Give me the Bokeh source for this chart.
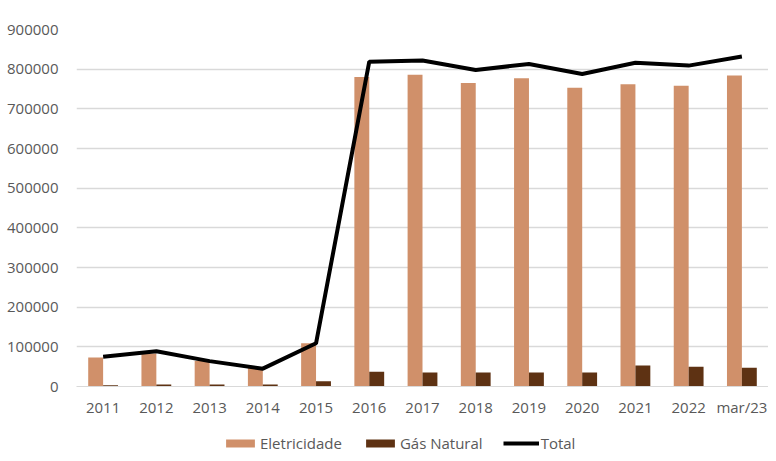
from bokeh.plotting import figure
from bokeh.layouts import column
from bokeh.models import ColumnDataSource, FactorRange, Legend, LegendItem, NumeralTickFormatter, FixedTicker, Range1d
from bokeh.transform import dodge
from bokeh.embed import file_html
from bokeh.resources import INLINE

categories = ["2011", "2012", "2013", "2014", "2015", "2016", "2017", "2018", "2019", "2020", "2021", "2022", "mar/23"]
eletricidade = [73000, 83000, 64000, 49000, 109000, 780000, 786000, 765000, 777000, 753000, 762000, 758000, 784000]
gas_natural = [3000, 5000, 5000, 5000, 13000, 37000, 35000, 35000, 35000, 35000, 53000, 50000, 47000]
total = [75000, 89000, 64000, 45000, 109000, 819000, 822000, 798000, 813000, 788000, 816000, 809000, 832000]
y_ticks = [0, 100000, 200000, 300000, 400000, 500000, 600000, 700000, 800000, 900000]
series_names = ["Eletricidade", "Gás Natural", "Total"]

FONT = "Open Sans"
TXT = "#595959"
C_ELE = "#D0906A"
C_GAS = "#5E3213"

src = ColumnDataSource(dict(cat=categories, ele=eletricidade, gas=gas_natural, tot=total))

p = figure(x_range=FactorRange(*categories), y_range=(0, 900000),
           width=768, height=420, output_backend="svg", toolbar_location=None,
           min_border_left=76, min_border_right=0, min_border_top=29, min_border_bottom=34)
p.outline_line_color = None
p.background_fill_color = "white"

p.vbar(x=dodge("cat", -0.14, range=p.x_range), top="ele", width=0.28, source=src,
       fill_color=C_ELE, line_color=None)
p.vbar(x=dodge("cat", 0.14, range=p.x_range), top="gas", width=0.28, source=src,
       fill_color=C_GAS, line_color=None)
p.line(x="cat", y="tot", source=src, line_color="black", line_width=4)

p.yaxis.ticker = FixedTicker(ticks=y_ticks)
p.yaxis.formatter = NumeralTickFormatter(format="0")
p.yaxis.axis_line_color = None
p.yaxis.major_tick_line_color = None
p.yaxis.minor_tick_line_color = None
p.yaxis.major_label_standoff = 12
p.xaxis.axis_line_color = "#D9D9D9"
p.xaxis.axis_line_width = 1
p.xaxis.major_tick_line_color = None
p.xaxis.minor_tick_line_color = None
p.xaxis.major_label_standoff = 4
for ax in (p.xaxis, p.yaxis):
    ax.major_label_text_font = FONT
    ax.major_label_text_font_size = "15px"
    ax.major_label_text_color = TXT

p.xgrid.grid_line_color = None
p.ygrid.grid_line_color = "#D9D9D9"
p.ygrid.grid_line_width = 1.5

# legend strip (proxy renderers kept outside the visible range)
q = figure(width=768, height=41, x_range=Range1d(0, 1), y_range=Range1d(0, 1),
           output_backend="svg", toolbar_location=None,
           min_border_left=76, min_border_right=0, min_border_top=0, min_border_bottom=0)
q.axis.visible = False
q.grid.grid_line_color = None
q.outline_line_color = None
r1 = q.vbar(x=[5], top=[1], width=0.1, fill_color=C_ELE, line_color=None)
r2 = q.vbar(x=[5], top=[1], width=0.1, fill_color=C_GAS, line_color=None)
r3 = q.line(x=[5, 6], y=[5, 5], line_color="black", line_width=4)

legend = Legend(items=[LegendItem(label=series_names[0], renderers=[r1]),
                       LegendItem(label=series_names[1], renderers=[r2]),
                       LegendItem(label=series_names[2], renderers=[r3])],
                orientation="horizontal", location=(146, 8),
                glyph_width=36, glyph_height=10, label_standoff=2, spacing=20,
                label_text_font=FONT, label_text_font_size="15px", label_text_color=TXT,
                border_line_color=None, background_fill_alpha=0, padding=2, margin=0)
q.add_layout(legend, "center")

open("out.html", "w").write(file_html(column(p, q), INLINE))
